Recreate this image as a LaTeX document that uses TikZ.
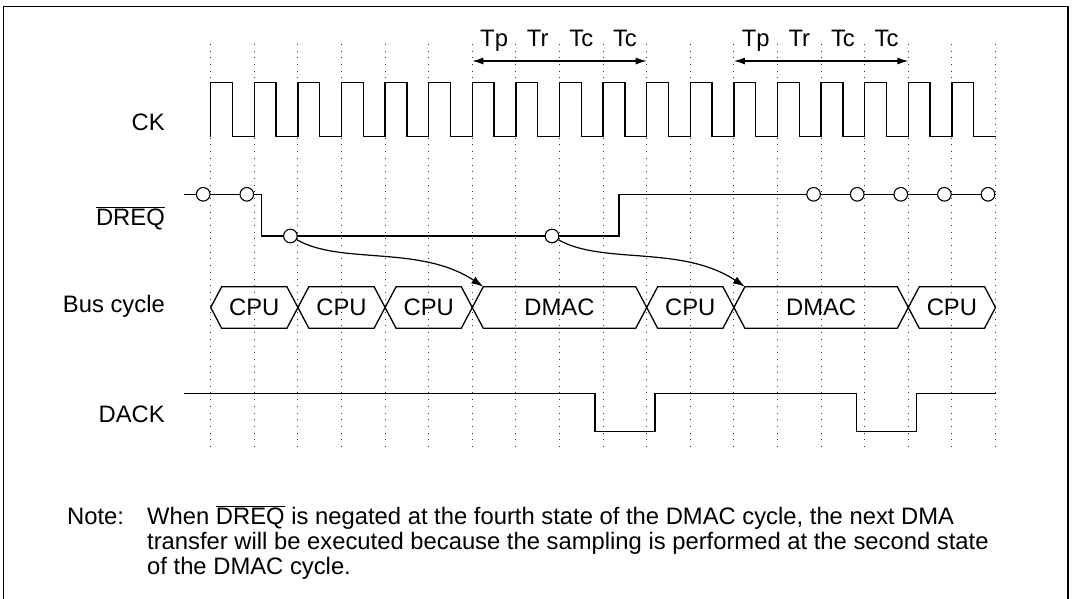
\documentclass[tikz,border=0pt]{standalone}
\usepackage{fontspec}
\setmainfont{Liberation Sans}
\usetikzlibrary{arrows.meta}

\begin{document}
\begin{tikzpicture}[x=1pt,y=-1pt,
  sig/.style={line width=1.3pt},
  grid/.style={line width=1pt,dash pattern=on 1pt off 5.7pt,black!80},
  smp/.style={draw,circle,fill=white,line width=1.1pt,minimum size=13.6pt,inner sep=0pt},
  lbl/.style={font=\fontsize{23.8}{28}\selectfont,inner sep=0pt},
  arr/.style={line width=1.2pt,-{Latex[length=12pt,width=8pt]}}]
 \useasboundingbox (0,0) rectangle (1073,599);
 % frame, open at the bottom
 \draw[line width=1.7pt] (3.5,599) -- (3.5,6.5) -- (1068.3,6.5) -- (1068.3,599);
 % clock edges, 43.6 per cycle
 \foreach \i in {0,...,18}
   \draw[grid] ({210.7+43.6*\i},44) -- ({210.7+43.6*\i},450);
 % signal names
 \node[lbl,anchor=base east] (ck) at (165,131) {CK};
 \node[lbl,anchor=base east] (dreq) at (165,225) {$\overline{\mbox{DREQ}}$};
 \node[lbl,anchor=base east] (bus) at (165,312) {Bus cycle};
 \node[lbl,anchor=base east] (dack) at (165,422) {DACK};
 % states of the two DMAC cycles
 \foreach \k/\s in {0/6,1/12} {
   \coordinate (st\k l) at ({210.7+43.6*\s},61);
   \coordinate (st\k r) at ({210.7+43.6*(\s+4)},61);
   \draw[line width=1.2pt,{Latex[length=11pt,width=7pt]}-{Latex[length=11pt,width=7pt]}] (st\k l) -- (st\k r);
   \foreach \j/\t in {0/Tp,1/Tr,2/Tc,3/Tc}
     \node[lbl,anchor=base] (st\k\j) at ({210.7+43.6*(\s+\j+0.5)},46.5) {\t};
 }
 % CK
 \draw[sig] (210.7,136.7)
   \foreach \i in {0,...,17} { -- ++(0,-54.4) -- ++(21.8,0) -- ++(0,54.4) -- ++(21.8,0) };
 % DREQ and its sampling points
 \draw[sig] (184.3,194.3) -| (261.7,236) -| (619,194.3) -- (996,194.3);
 \foreach \i in {0,1,14,15,16,17,18}
   \node[smp] (h\i) at ({203.2+43.6*\i},194.3) {};
 \node[smp] (s1) at ({203.2+43.6*2},236) {};
 \node[smp] (s2) at ({203.2+43.6*8},236) {};
 % bus cycles
 \foreach \a/\b/\t/\n in {0/2/CPU/cpu1,2/4/CPU/cpu2,4/6/CPU/cpu3,6/10/DMAC/dmac1,
                          10/12/CPU/cpu4,12/16/DMAC/dmac2,16/18/CPU/cpu5} {
   \draw[sig] ({210.7+43.6*\a},307.5) -- ++(11,-20.8) -- ({199.7+43.6*\b},286.7)
     -- ({210.7+43.6*\b},307.5) -- ({199.7+43.6*\b},328.3) -- ({221.7+43.6*\a},328.3) -- cycle;
   \coordinate (\n-in) at ({221.7+43.6*\a},286.7);
   \node[lbl] (\n) at ({210.7+21.8*(\a+\b)},307.5) {\t};
 }
 \draw[arr] (s1) .. controls +(50,29) and +(-63,-42) .. (dmac1-in);
 \draw[arr] (s2) .. controls +(50,29) and +(-63,-42) .. (dmac2-in);
 % DACK
 \draw[sig] (184,393.3) -| (595,431.7) -| (655,393.3) -| (856.7,431.7) -| (916.7,393.3) -- (996,393.3);
 % note
 \node[lbl,anchor=base west] (note) at (67,524) {Note:};
 \node[lbl,anchor=base west] (note1) at (147,524) {When $\overline{\mbox{DREQ}}$ is negated at the fourth state of the DMAC cycle, the next DMA};
 \node[lbl,anchor=base west] (note2) at (147,549) {transfer will be executed because the sampling is performed at the second state};
 \node[lbl,anchor=base west] (note3) at (147,574) {of the DMAC cycle.};
\end{tikzpicture}
\end{document}
